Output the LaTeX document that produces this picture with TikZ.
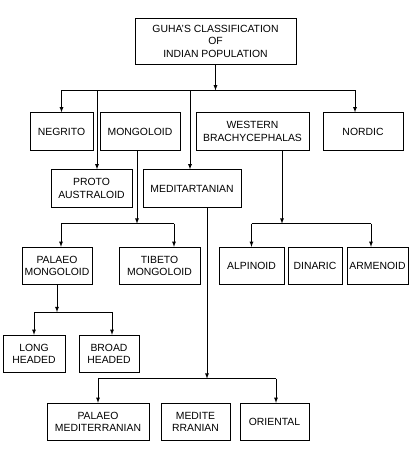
\documentclass[tikz,border=0pt]{standalone}
\usepackage{fontspec}
\setsansfont{Liberation Sans}
\newcommand\bHeigh{37.5pt}
\usetikzlibrary{shapes.geometric, arrows}
\tikzstyle{block} = [rectangle, minimum height=\bHeigh, align=center, inner sep=2pt, draw=black, line width=0.8pt, font=\sffamily\fontsize{10.4}{12.5}\selectfont]
\tikzstyle{arrow} = [line width=0.8pt,->,>=latex]
\tikzstyle{line} = [line width=0.8pt]
\begin{document}
\begin{tikzpicture} [x=1pt, y=1pt, node distance = 80pt]
\useasboundingbox (0,0) rectangle (417,-449);
\node (title) [block, minimum width=161pt, minimum height=46pt] at (215.5,-41) {GUHA'S CLASSIFICATION\\ OF\\ INDIAN POPULATION};
\node (negrito) [block, minimum width=63pt, below of = title, xshift=-154pt, yshift=-10.5pt] {NEGRITO};
\node (mongoloid) [block, minimum width=80pt, right of = negrito, xshift=-1.5pt] {MONGOLOID};
\node (western) [block, minimum width=113pt, right of = mongoloid, xshift=32.5pt] {WESTERN\\ BRACHYCEPHALAS};
\node (nordic) [block, minimum width=80pt, right of = western, xshift=30.5pt] {NORDIC};
\node (proto) [block, minimum width=81pt, below of = negrito, xshift=30pt, yshift=23pt] {PROTO\\ AUSTRALOID};
\node (medit) [block, minimum width=98pt, right of = proto, xshift=20.5pt] {MEDITARTANIAN};
\node (palmong) [block, minimum width=70pt, below of = proto, xshift=-34.5pt, yshift=2.5pt] {PALAEO\\ MONGOLOID};
\node (tibeto) [block, minimum width=81pt, right of = palmong, xshift=22.5pt] {TIBETO\\ MONGOLOID};
\node (alpinoid) [block, minimum width=65pt, right of = tibeto, xshift=12pt] {ALPINOID};
\node (dinaric) [block, minimum width=54pt, right of = alpinoid, xshift=-16.5pt] {DINARIC};
\node (armenoid) [block, minimum width=61pt, right of = dinaric, xshift=-17.5pt] {ARMENOID};
\node (long) [block, minimum width=62pt, below of = palmong, xshift=-23pt, yshift=-8pt] {LONG\\ HEADED};
\node (broad) [block, minimum width=60pt, right of = long, xshift=-5pt] {BROAD\\ HEADED};
\node (palmed) [block, minimum width=102pt, below of = long, xshift=64pt, yshift=12pt] {PALAEO\\ MEDITERRANIAN};
\node (medite) [block, minimum width=69pt, right of = palmed, xshift=17.5pt] {MEDITE\\ RRANIAN};
\node (oriental) [block, minimum width=69pt, right of = medite, xshift=-1pt] {ORIENTAL};

% first level
\draw [arrow] (title.south) -- ++(0,-26pt) coordinate (bus1);
\draw [line] (negrito.north |- bus1) -- ([xshift=-8pt]nordic.north |- bus1);
\draw [arrow] (negrito.north |- bus1) -- (negrito);
\draw [arrow] ([xshift=-8pt]nordic.north |- bus1) -- ([xshift=-8pt]nordic.north);
\draw [arrow] ([xshift=5.5pt]proto.north |- bus1) -- ([xshift=5.5pt]proto.north);
\draw [arrow] ([xshift=-2pt]medit.north |- bus1) -- ([xshift=-2pt]medit.north);

% mongoloid
\draw [arrow] ([xshift=-3pt]mongoloid.south) -- ++(0,-73pt) coordinate (bus2);
\draw [line] ([xshift=4pt]palmong.north |- bus2) -- ([xshift=14.5pt]tibeto.north |- bus2);
\draw [arrow] ([xshift=4pt]palmong.north |- bus2) -- ([xshift=4pt]palmong.north);
\draw [arrow] ([xshift=14.5pt]tibeto.north |- bus2) -- ([xshift=14.5pt]tibeto.north);

% western
\draw [arrow] ([xshift=29.5pt]western.south) -- ++(0,-73pt) coordinate (bus3);
\draw [line] (alpinoid.north |- bus3) -- ([xshift=-6.5pt]armenoid.north |- bus3);
\draw [arrow] (alpinoid.north |- bus3) -- (alpinoid);
\draw [arrow] ([xshift=-6.5pt]armenoid.north |- bus3) -- ([xshift=-6.5pt]armenoid.north);

% palaeo mongoloid
\draw [arrow] (palmong.south) -- ++(0,-27pt) coordinate (bus4);
\draw [line] (long.north |- bus4) -- ([xshift=3pt]broad.north |- bus4);
\draw [arrow] (long.north |- bus4) -- (long);
\draw [arrow] ([xshift=3pt]broad.north |- bus4) -- ([xshift=3pt]broad.north);

% meditartanian
\draw [arrow] ([xshift=15pt]medit.south) -- ++(0,-171pt) coordinate (bus5);
\draw [line] (palmed.north |- bus5) -- ([xshift=1.5pt]oriental.north |- bus5);
\draw [arrow] (palmed.north |- bus5) -- (palmed);
\draw [arrow] ([xshift=1.5pt]oriental.north |- bus5) -- ([xshift=1.5pt]oriental.north);
\end{tikzpicture}
\end{document}
